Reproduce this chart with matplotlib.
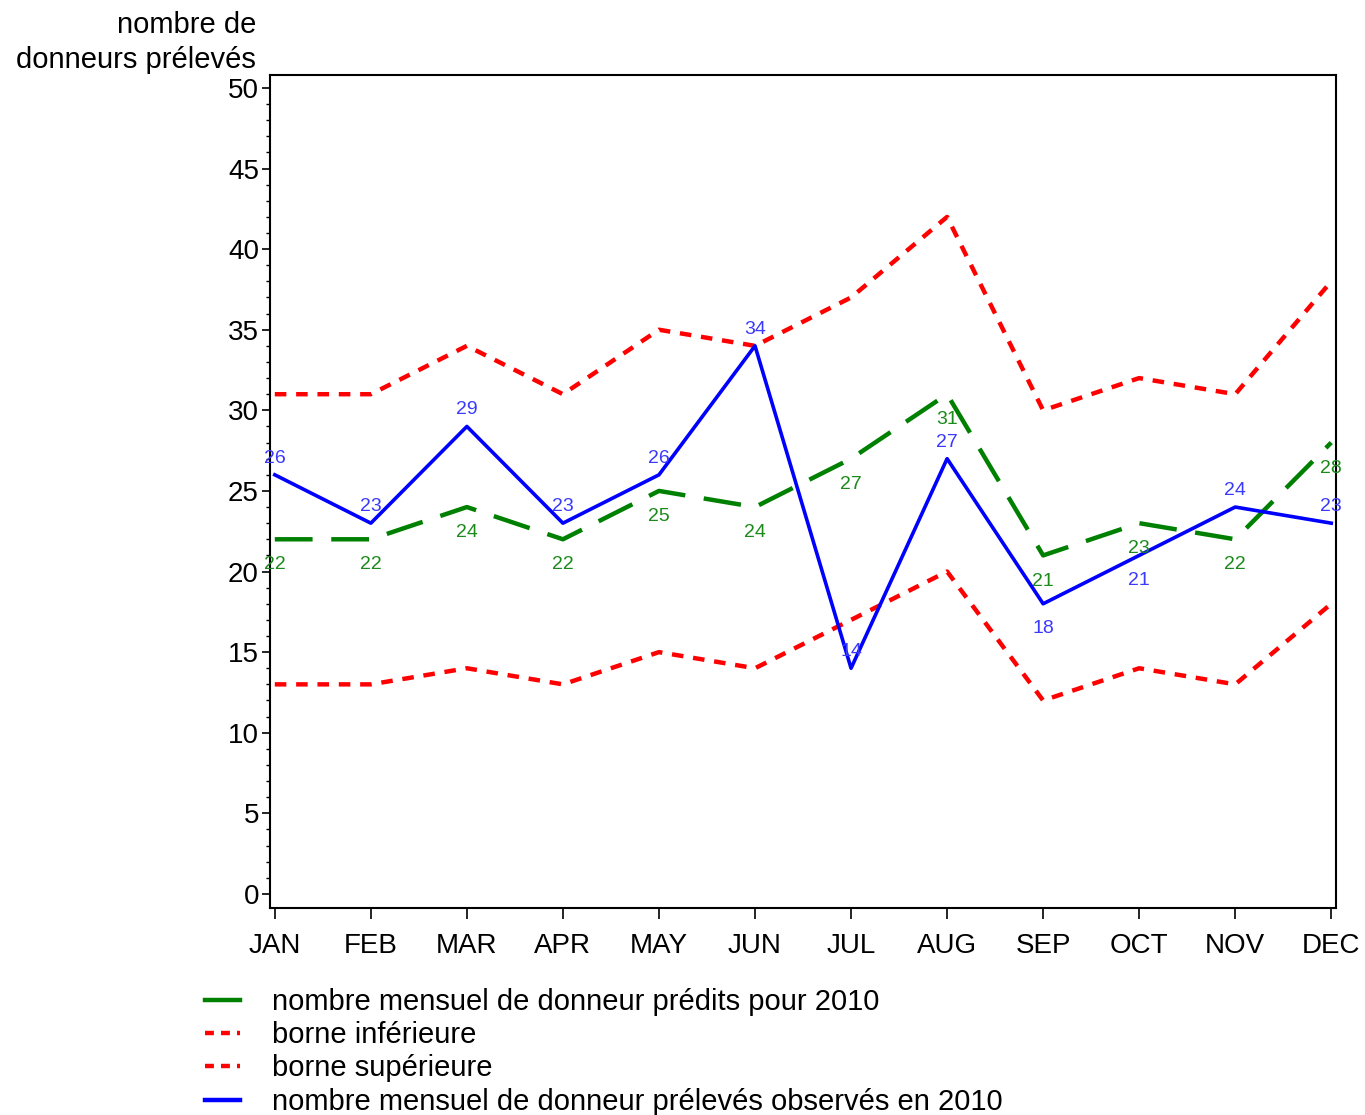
import matplotlib
matplotlib.use("Agg")
import matplotlib.pyplot as plt
from matplotlib.lines import Line2D
import numpy as np

months = ["JAN", "FEB", "MAR", "APR", "MAY", "JUN", "JUL", "AUG", "SEP", "OCT", "NOV", "DEC"]
predicted = [22, 22, 24, 22, 25, 24, 27, 31, 21, 23, 22, 28]
lower = [13, 13, 14, 13, 15, 14, 17, 20, 12, 14, 13, 18]
upper = [31, 31, 34, 31, 35, 34, 37, 42, 30, 32, 31, 38]
observed = [26, 23, 29, 23, 26, 34, 14, 27, 18, 21, 24, 23]
obs_label_side = [1, 1, 1, 1, 1, 1, 1, 1, -1, -1, 1, 1]

plt.rcParams['font.family'] = ['Liberation Sans', 'DejaVu Sans']

fig = plt.figure(figsize=(13.65, 11.15), dpi=100)
ax = fig.add_axes([0.1978, 0.1857, 0.7810, 0.7470])

x = np.arange(len(months))
green = '#008000'
red = '#ff0000'
blue = '#0000ff'

l_up, = ax.plot(x, upper, color=red, lw=3.2, dashes=(2.6, 2.2))
l_lo, = ax.plot(x, lower, color=red, lw=3.2, dashes=(2.6, 2.2))
l_pred, = ax.plot(x, predicted, color=green, lw=3.2, dashes=(8.5, 4.2))
l_obs, = ax.plot(x, observed, color=blue, lw=2.6)

for xi, v in zip(x, predicted):
    ax.annotate(str(v), (xi, v), xytext=(0, -18.5), textcoords='offset points',
                ha='center', va='center', fontsize=14, color='#1a8a1a')
for xi, v, s in zip(x, observed, obs_label_side):
    ax.annotate(str(v), (xi, v), xytext=(0, 12 if s > 0 else -18), textcoords='offset points',
                ha='center', va='center', fontsize=14, color='#3a3aff')

ax.set_xlim(-0.05, 11.05)
ax.set_ylim(-0.87, 50.8)
ax.set_xticks(x)
ax.set_xticklabels(months)
ax.set_yticks(np.arange(0, 51, 5))
ax.set_yticks(np.arange(0, 51, 1), minor=True)
ax.tick_params(axis='both', labelsize=20, direction='out', color='black')
ax.tick_params(axis='y', which='major', length=6, width=1.2, pad=2)
ax.tick_params(axis='y', which='minor', length=3, width=1.0)
ax.tick_params(axis='x', which='major', length=8, width=1.2, pad=10)
for sp in ax.spines.values():
    sp.set_linewidth(1.5)

fig.text(256 / 1365, 1 - 11 / 1115, "nombre de\ndonneurs prélevés", ha='right', va='top',
         fontsize=21, linespacing=1.3)

h_pred = Line2D([], [], color=green, lw=3.2)
h_lo = Line2D([], [], color=red, lw=3.2, dashes=(2.0, 1.6, 2.0, 1.6, 1.0, 1.6))
h_up = Line2D([], [], color=red, lw=3.2, dashes=(2.0, 1.6, 2.0, 1.6, 1.0, 1.6))
h_obs = Line2D([], [], color=blue, lw=3.2)
fig.legend([h_pred, h_lo, h_up, h_obs],
           ["nombre mensuel de donneur prédits pour 2010", "borne inférieure",
            "borne supérieure", "nombre mensuel de donneur prélevés observés en 2010"],
           loc='upper left', bbox_to_anchor=(205 / 1365, 1 - 988 / 1115), frameon=False,
           fontsize=21, handlelength=1.2, handletextpad=1.1, labelspacing=0.18,
           borderpad=0, borderaxespad=0)

fig.savefig("out.png", dpi=100)
